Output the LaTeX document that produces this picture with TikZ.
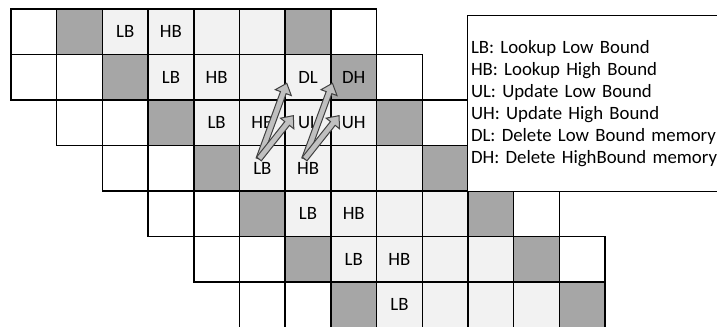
\documentclass[tikz,border=0pt]{standalone}
\usepackage{fontspec}
\setmainfont{Carlito}
\usetikzlibrary{calc}
\definecolor{Shade}{HTML}{A6A6A6}
\definecolor{Light}{HTML}{F2F2F2}
\definecolor{ArrowFill}{HTML}{C0C0C0}
\definecolor{ArrowLine}{HTML}{404040}
\tikzset{cell/.style={draw=black,line width=1pt,minimum size=34.2pt,inner sep=0pt},
lab/.style={font=\fontsize{14.1}{16.6}\selectfont,inner sep=1pt},
legend/.style={draw=black,line width=1pt,fill=white,anchor=north west,text width=210pt,inner xsep=2.5pt,minimum height=132pt,align=left,font=\fontsize{14.1}{16.6}\selectfont},
blk/.style={fill=ArrowFill,draw=ArrowLine,line width=.75pt,line join=miter}}
% block arrow from #1 to #2
\newcommand{\blockarrow}[2]{%
\coordinate (ba-h) at ($(#2)!7.5pt!(#1)$);
\draw[blk] ($(#1)!2.25pt!90:(#2)$) -- ($(ba-h)!2.25pt!-90:(#1)$) -- ($(ba-h)!6.4pt!-90:(#1)$) -- (#2)
 -- ($(ba-h)!6.4pt!90:(#1)$) -- ($(ba-h)!2.25pt!90:(#1)$) -- ($(#1)!2.25pt!-90:(#2)$) -- cycle;}

\begin{document}
\begin{tikzpicture}[x=0.75pt,y=-0.75pt]
\useasboundingbox (0,0) rectangle (717,327);
\clip (0,0) rectangle (717,327);
% staggered rows of cells
\foreach \r in {0,...,6}{
  \pgfmathtruncatemacro{\s}{max(0,\r-1)}
  \pgfmathtruncatemacro{\e}{min(12,\r+7)}
  \foreach \c in {\s,...,\e}{
    \pgfmathtruncatemacro{\k}{\c-\r}
    \def\col{white}
    \ifnum\k>1 \ifnum\k<6 \def\col{Light}\fi\fi
    \ifnum\k=1 \def\col{Shade}\fi
    \ifnum\k=6 \def\col{Shade}\fi
    \node[cell,fill=\col] (c-\r-\c) at ({11+(\c+.5)*45.7},{9+(\r+.5)*45.5}) {};
  }
}
\foreach \r/\c/\t in {0/2/LB,0/3/HB,1/3/LB,1/4/HB,1/6/DL,1/7/DH,2/4/LB,2/5/HB,2/6/UL,2/7/UH,3/5/LB,3/6/HB,4/6/LB,4/7/HB,5/7/LB,5/8/HB,6/8/LB}{
  \node[lab] (t-\r-\c) at (c-\r-\c.center) {\t};
}
\node[legend] (key) at (467,15) {LB: Lookup Low Bound\\HB: Lookup High Bound\\UL: Update Low Bound\\UH: Update High Bound\\DL: Delete Low Bound memory\\DH: Delete HighBound memory};
% arrows from LB and HB
\foreach \a/\b in {5/6,6/7}{
  \coordinate (tail-\a) at ($(c-3-\a.center)+(-3.4,-9.3)$);
  \coordinate (up-\b) at ($(c-1-\b.center)+(-21.3,6)$);
  \coordinate (mid-\b) at ($(c-2-\b.center)+(-14.7,-7.1)$);
  \blockarrow{tail-\a}{up-\b}
  \blockarrow{tail-\a}{mid-\b}
}
\end{tikzpicture}
\end{document}
